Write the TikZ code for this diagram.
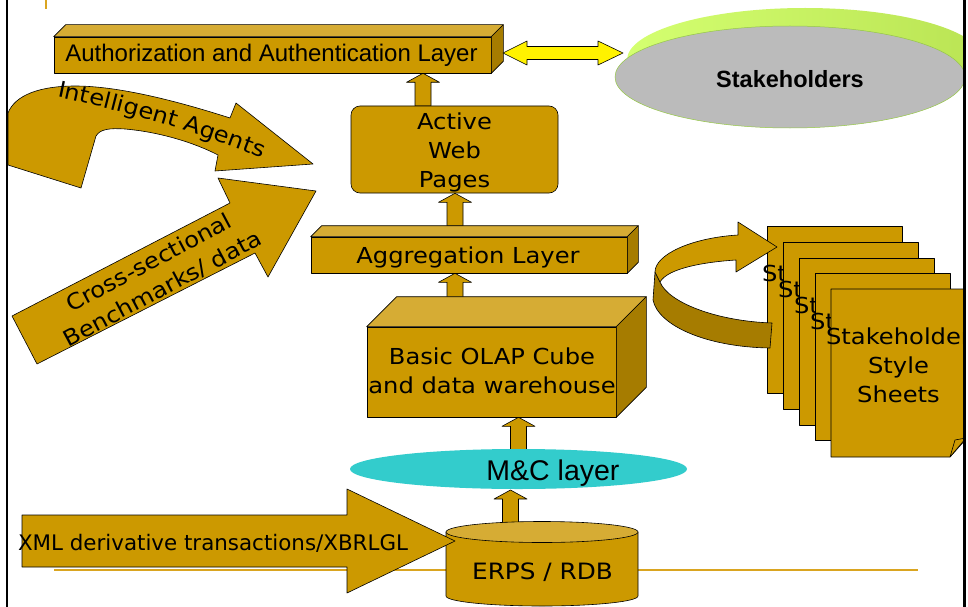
\documentclass[tikz,border=0pt]{standalone}
\usepackage{fontspec}
\setmainfont{DejaVu Sans}
\newfontfamily\verd[FakeStretch=1.1]{DejaVu Sans}
\newfontfamily\plainsans{DejaVu Sans}
\newfontfamily\arialfont{Liberation Sans}
\usetikzlibrary{calc,decorations.text,shapes.geometric}

\definecolor{gold}{RGB}{204,153,0}
\definecolor{goldlight}{RGB}{214,172,52}
\definecolor{golddark}{RGB}{166,124,0}
\definecolor{rulegold}{RGB}{218,165,32}
\definecolor{mccyan}{RGB}{51,204,204}
\definecolor{stgray}{RGB}{187,187,187}
\definecolor{stedge}{RGB}{150,200,70}
\definecolor{limeA}{RGB}{212,255,112}
\definecolor{limeB}{RGB}{186,228,84}

\pgfdeclarelayer{paper}
\pgfdeclarelayer{under}
\pgfsetlayers{paper,under,main}

\tikzset{
  outline/.style={draw=black, line width=0.6pt, line join=round},
  boxfront/.style={outline, fill=gold},
  boxtop/.style={outline, fill=goldlight},
  boxside/.style={outline, fill=golddark},
  vtext/.style={font=\verd\fontsize{22}{29}\selectfont, align=center, inner sep=0pt},
  sheetbox/.style={boxfront, minimum width=135pt, minimum height=167pt, inner sep=0pt},
  uparrow/.style={outline, fill=gold, to path={
    let \p1=(\tikztostart), \p2=(\tikztotarget) in
    (\x1-8pt,\y1) -- (\x1-8pt,\y2-9pt) -- (\x1-16.5pt,\y2-9pt) -- (\x1,\y2)
    -- (\x1+16.5pt,\y2-9pt) -- (\x1+8pt,\y2-9pt) -- (\x1+8pt,\y1) -- cycle}},
  dblarrow/.style={outline, fill=yellow, to path={
    let \p1=(\tikztostart), \p2=(\tikztotarget) in
    (\x1,\y1) -- (\x1+24pt,\y1+12pt) -- (\x1+24pt,\y1+6.5pt) -- (\x2-25pt,\y1+6.5pt)
    -- (\x2-25pt,\y1+12pt) -- (\x2,\y1) -- (\x2-25pt,\y1-12pt) -- (\x2-25pt,\y1-6.5pt)
    -- (\x1+24pt,\y1-6.5pt) -- (\x1+24pt,\y1-12pt) -- cycle}},
}

\begin{document}
\begin{tikzpicture}[x=1pt,y=-1pt]
\useasboundingbox (0,0) rectangle (968,607);

\begin{pgfonlayer}{paper}
  \fill[white] (0,0) rectangle (968,607);
  \draw[rulegold, line width=2pt] (54,570) -- (918,570);
  \draw[rulegold, line width=2pt] (46,0) -- (46,9);
\end{pgfonlayer}

% ---------- layered boxes ----------
\node[boxfront, minimum width=437pt, minimum height=36pt, inner sep=0pt] (auth) at (272.5,55) {};
\draw[boxtop] (auth.north west) -- ++(12,-12) -- ([shift={(12,-12)}]auth.north east) -- (auth.north east) -- cycle;
\draw[boxside] (auth.north east) -- ++(12,-12) -- ([shift={(12,-12)}]auth.south east) -- (auth.south east) -- cycle;
\node[font=\arialfont\fontsize{24}{28}\selectfont, anchor=base, inner sep=0pt] (authtxt) at (271.5,61.7) {Authorization and Authentication Layer};

\node[boxfront, rounded corners=9pt, minimum width=207pt, minimum height=87pt, inner sep=0pt] (awp) at (454.5,149.5) {};
\node[vtext] (awptxt) at (454.5,152.6) {Active\\Web\\Pages};

\node[boxfront, minimum width=316pt, minimum height=36pt, inner sep=0pt] (agg) at (469,255) {};
\draw[boxtop] (agg.north west) -- ++(11,-11) -- ([shift={(11,-11)}]agg.north east) -- (agg.north east) -- cycle;
\draw[boxside] (agg.north east) -- ++(11,-11) -- ([shift={(11,-11)}]agg.south east) -- (agg.south east) -- cycle;
\node[font=\verd\fontsize{22}{29}\selectfont, anchor=base, inner sep=0pt] (aggtxt) at (468,263.3) {Aggregation Layer};

\node[boxfront, minimum width=249pt, minimum height=90pt, inner sep=0pt] (cube) at (491.5,372) {};
\draw[boxtop] (cube.north west) -- ++(30,-30) -- ([shift={(30,-30)}]cube.north east) -- (cube.north east) -- cycle;
\draw[boxside] (cube.north east) -- ++(30,-30) -- ([shift={(30,-30)}]cube.south east) -- (cube.south east) -- cycle;
\node[vtext] (cubetxt) at (492,371.2) {Basic OLAP Cube\\and data warehouse};

\node[ellipse, fill=mccyan, minimum width=337pt, minimum height=40pt, inner sep=0pt] (mc) at (518.5,469) {};
\node[font=\arialfont\fontsize{28.5}{32}\selectfont, anchor=base, inner sep=0pt] (mctxt) at (553,480.7) {M\&C layer};

% database cylinder
\draw[boxfront] (446,532) -- (446,596) arc[start angle=180, end angle=360, x radius=96pt, y radius=10pt] -- (638,532) -- cycle;
\draw[boxtop] (542,532) ellipse [x radius=96pt, y radius=10.5pt];
\coordinate (erps) at (542,532);
\node[font=\verd\fontsize{22.5}{28}\selectfont, anchor=base, inner sep=0pt] (erpstxt) at (542.5,579) {ERPS / RDB};

% ---------- block arrows between the layers ----------
\coordinate (a1) at (423,106);
\coordinate (a2) at (455,226);
\coordinate (a3) at (455,306);
\coordinate (a4) at (518.5,460);
\coordinate (a5) at (510.5,523);
\coordinate (mcB) at (510.5,490);
\begin{pgfonlayer}{under}
  \draw[uparrow] (a1) to (auth.south);
  \draw[uparrow] (a2) to (awp.south);
  \draw[uparrow] (a3) to (agg.south);
  \draw[uparrow] (a4) to (cube.south);
  \draw[uparrow] (a5) to (mcB);
\end{pgfonlayer}

% ---------- input arrows ----------
\draw[boxfront] (22,515) -- (347,515) -- (347,489) -- (455,541) -- (347,593) -- (347,567) -- (22,567) -- cycle;
\node[font=\plainsans\fontsize{21.4}{26}\selectfont, anchor=base, inner sep=0pt] (xmltxt) at (213,550) {XML derivative transactions/XBRLGL};

\draw[boxfront] (8,165) -- (81,188) -- (96,136)
  .. controls (100,129) and (110,128) .. (125,129)
  .. controls (160,132) and (195,143) .. (218,155)
  -- (215,171) -- (313,164) -- (236,103) -- (230,118)
  .. controls (180,102) and (120,86) .. (75,86)
  .. controls (40,86) and (15,95) .. (8,113) -- cycle;
\path[decorate, decoration={text along path, text align=left,
  text={|\verd\fontsize{22}{26}\selectfont|Intelligent Agents}}]
  (57,97) .. controls (120,110) and (210,135) .. (285,168);

\draw[boxfront] (12,316) -- (230,203) -- (218,178) -- (316,191) -- (268,277) -- (255,253) -- (37,364) -- cycle;
\node[vtext, rotate=28] (crosstxt) at (156,276) {Cross-sectional\\Benchmarks/ data};

% ---------- stakeholders and style sheets ----------
\begin{scope}
  \clip (0,0) rectangle (963,607);
  \shade[left color=limeA, right color=limeB] (805,60) ellipse [x radius=178pt, y radius=52pt];
  \node[ellipse, fill=stgray, draw=stedge, line width=0.5pt, minimum width=350pt, minimum height=102pt, inner sep=0pt] (stake) at (790,77) {};
  \node[font=\arialfont\bfseries\fontsize{23.5}{28}\selectfont, anchor=base, inner sep=0pt] (staketxt) at (790,87.3) {Stakeholders};

  \foreach \i in {0,...,3}{
    \node[sheetbox, anchor=north west] (sheet\i) at (767+16*\i, 226+15.75*\i) {};
    \node[vtext] (sheettxt\i) at ([shift={(67.5,76.7)}]sheet\i.north west) {Stakeholder\\Style\\Sheets};
  }
  \draw[boxfront] (831,289) -- (967,289) -- (967,438) -- (950,457) -- (831,457) -- cycle;
  \draw[boxfront] (950,457) -- (955,440) -- (966,438) -- cycle;
  \coordinate (sheet4) at (831,289);
  \node[vtext] (sheettxt4) at (898.5,365.7) {Stakeholder\\Style\\Sheets};
\end{scope}

\coordinate (authR) at (503,53);
\coordinate (stakeL) at (623,53);
\draw[dblarrow] (authR) to (stakeL);

% turning arrow into the style sheets
\draw[boxside] (655,272) -- (653,300) .. controls (658,325) and (705,347) .. (770,348)
  -- (772,323) .. controls (715,321) and (668,302) .. (660,282) -- cycle;
\draw[boxfront] (655,272) .. controls (655,255) and (690,238) .. (738,235)
  -- (738,222) -- (777,247) -- (736,272) -- (736,260)
  .. controls (705,262) and (668,268) .. (660,282) -- cycle;

% page frame
\draw[line width=2pt] (7,0) -- (7,607);
\draw[line width=2.5pt] (964.5,0) -- (964.5,607);
\end{tikzpicture}
\end{document}
